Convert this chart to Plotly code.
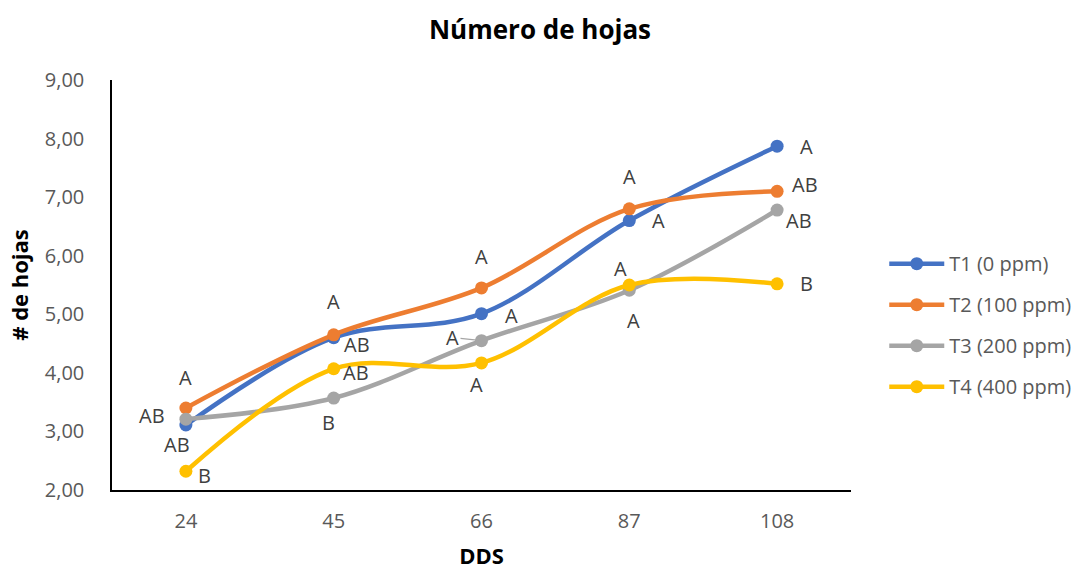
import plotly.graph_objects as go

# Days after sowing (DDS) and mean leaf counts per treatment
dds = ["24", "45", "66", "87", "108"]
series_names = ["T1 (0 ppm)", "T2 (100 ppm)", "T3 (200 ppm)", "T4 (400 ppm)"]
t1 = [3.11, 4.60, 5.01, 6.60, 7.87]
t2 = [3.40, 4.65, 5.45, 6.80, 7.10]
t3 = [3.21, 3.57, 4.55, 5.41, 6.78]
t4 = [2.32, 4.07, 4.17, 5.50, 5.52]

# Mean-separation letters for each treatment and date
t1_letters = ["AB", "AB", "A", "A", "A"]
t2_letters = ["A", "A", "A", "A", "AB"]
t3_letters = ["AB", "B", "A", "A", "AB"]
t4_letters = ["B", "AB", "A", "A", "B"]

y_ticks = [2, 3, 4, 5, 6, 7, 8, 9]

colors = ["#4472C4", "#ED7D31", "#A5A5A5", "#FFC000"]
values = [t1, t2, t3, t4]
letters = [t1_letters, t2_letters, t3_letters, t4_letters]

# Pixel offsets (right, up) of each letter relative to its point
offsets = [
    [(-9, -20), (23, -7), (30, -2), (29, 0), (29, 0)],
    [(0, 31), (0, 33), (0, 31), (0, 32), (28, 7)],
    [(-34, 4), (-5, -24), (-29, 3), (4, -30), (22, -10)],
    [(19, -4), (22, -4), (-5, -22), (-9, 17), (29, 0)],
]

FONT = "'Open Sans', Calibri, sans-serif"

fig = go.Figure()
for name, vals, col in zip(series_names, values, colors):
    fig.add_trace(go.Scatter(
        x=dds, y=vals, name=name, legendgroup=name, mode="lines+markers",
        line=dict(color=col, width=4.5, shape="spline", smoothing=1.0),
        marker=dict(color=col, size=13),
    ))

annotations = []
for s, (vals, labs) in enumerate(zip(values, letters)):
    for i, (yv, lab) in enumerate(zip(vals, labs)):
        dx, dy = offsets[s][i]
        common = dict(x=i, y=yv, xref="x", yref="y", text=lab,
                      font=dict(family=FONT, size=20, color="#404040"))
        if s == 2 and i == 2:
            # short leader line from the letter to the point
            annotations.append(dict(
                **common, showarrow=True, arrowhead=0, arrowwidth=1.2,
                arrowcolor="#A5A5A5", ax=dx, ay=-dy, standoff=0,
            ))
        else:
            annotations.append(dict(**common, showarrow=False,
                                    xshift=dx, yshift=dy))

fig.update_layout(
    width=1080, height=570,
    paper_bgcolor="white", plot_bgcolor="white",
    margin=dict(l=112, r=229, t=80, b=80, autoexpand=False),
    font=dict(family=FONT, color="#595959"),
    title=dict(text="<b>Número de hojas</b>", x=0.5, xref="container",
               y=0.948, yref="container", xanchor="center", yanchor="middle",
               font=dict(family=FONT, size=26, color="black")),
    xaxis=dict(
        type="category", categoryorder="array", categoryarray=dds,
        range=[-0.5, 4.5], automargin=False,
        showline=True, linecolor="black", linewidth=1.5,
        showgrid=False, zeroline=False, ticks="",
        ticklabelstandoff=12,
        tickfont=dict(family=FONT, size=20, color="#595959"),
        title=dict(text="<b>DDS</b>",
                   font=dict(family=FONT, size=22, color="black"), standoff=16),
    ),
    yaxis=dict(
        range=[2, 9], tickvals=y_ticks, automargin=False,
        ticktext=[f"{v:.2f}".replace(".", ",") for v in y_ticks],
        showline=True, linecolor="black", linewidth=1.5,
        showgrid=False, zeroline=False, ticks="",
        ticklabelstandoff=22,
        tickfont=dict(family=FONT, size=20, color="#595959"),
        title=dict(text="<b># de hojas</b>",
                   font=dict(family=FONT, size=22, color="black"), standoff=10),
    ),
    legend=dict(
        x=1.045, y=0.402, xanchor="left", yanchor="middle",
        font=dict(family=FONT, size=20, color="#595959"),
        tracegroupgap=12, itemwidth=55,
    ),
    annotations=annotations,
)

fig.write_html("out.html")
